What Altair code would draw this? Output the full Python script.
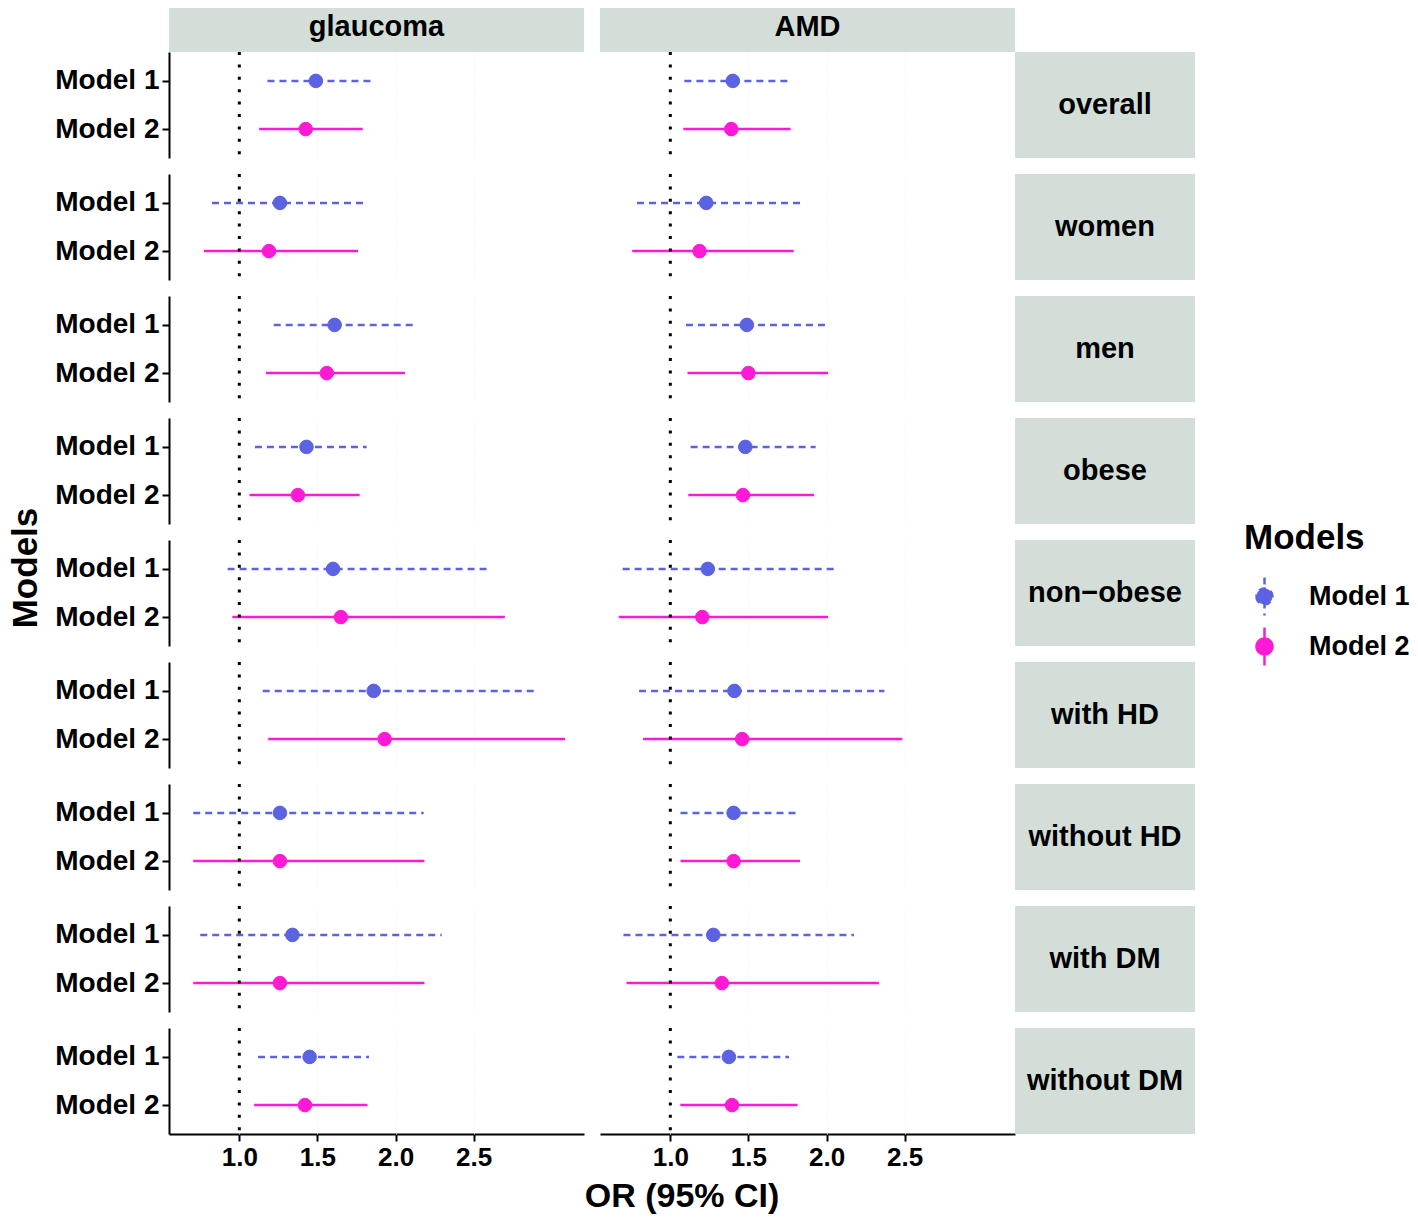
import altair as alt
import pandas as pd

FONT = "Liberation Sans"

diseases = ["glaucoma", "AMD"]
subgroups = ["overall", "women", "men", "obese", "non\u2212obese",
             "with HD", "without HD", "with DM", "without DM"]
models = ["Model 1", "Model 2"]
model_colors = ["#5b63e3", "#ff1ad6"]
strip_color = "#d3ded9"
x_ticks = [1.0, 1.5, 2.0, 2.5]

# glaucoma
glaucoma_m1_or = [1.49, 1.26, 1.61, 1.43, 1.60, 1.86, 1.26, 1.34, 1.45]
glaucoma_m1_lo = [1.18, 0.825, 1.22, 1.10, 0.925, 1.15, 0.705, 0.75, 1.12]
glaucoma_m1_hi = [1.86, 1.82, 2.11, 1.815, 2.585, 2.905, 2.18, 2.295, 1.83]
glaucoma_m2_or = [1.425, 1.19, 1.56, 1.375, 1.65, 1.93, 1.26, 1.26, 1.42]
glaucoma_m2_lo = [1.127, 0.773, 1.17, 1.065, 0.955, 1.185, 0.705, 0.705, 1.095]
glaucoma_m2_hi = [1.79, 1.76, 2.06, 1.77, 2.70, 3.085, 2.185, 2.185, 1.82]

# AMD
amd_m1_or = [1.40, 1.23, 1.49, 1.48, 1.24, 1.41, 1.405, 1.275, 1.375]
amd_m1_lo = [1.09, 0.787, 1.10, 1.13, 0.695, 0.80, 1.065, 0.70, 1.045]
amd_m1_hi = [1.777, 1.845, 2.00, 1.93, 2.07, 2.37, 1.83, 2.175, 1.76]
amd_m2_or = [1.39, 1.187, 1.50, 1.465, 1.205, 1.46, 1.405, 1.33, 1.395]
amd_m2_lo = [1.083, 0.756, 1.11, 1.115, 0.67, 0.825, 1.065, 0.72, 1.064]
amd_m2_hi = [1.77, 1.79, 2.01, 1.92, 2.01, 2.485, 1.83, 2.335, 1.815]

series = {
    ("glaucoma", "Model 1"): (glaucoma_m1_or, glaucoma_m1_lo, glaucoma_m1_hi),
    ("glaucoma", "Model 2"): (glaucoma_m2_or, glaucoma_m2_lo, glaucoma_m2_hi),
    ("AMD", "Model 1"): (amd_m1_or, amd_m1_lo, amd_m1_hi),
    ("AMD", "Model 2"): (amd_m2_or, amd_m2_lo, amd_m2_hi),
}

records = []
for (dis, mod), (est, lo, hi) in series.items():
    for i, sg in enumerate(subgroups):
        records.append({"disease": dis, "subgroup": sg, "model": mod,
                        "est": est[i], "lo": lo[i], "hi": hi[i]})
df = pd.DataFrame(records)

W, H = 415, 106
STRIP_W, STRIP_H = 180, 51

x_scale = alt.Scale(domain=[0.55, 3.206], nice=False, zero=False)
x_axis = alt.Axis(values=x_ticks, format=".1f", title=None)
y_enc = alt.Y("model:N", sort=models, scale=alt.Scale(type="point", padding=0.6),
              axis=alt.Axis(title=None))

SYMBOL = "M0,-1L0,1M-0.42,0A0.42,0.42,0,1,0,0.42,0A0.42,0.42,0,1,0,-0.42,0Z"
legend_def = alt.Legend(symbolType=SYMBOL)
col_scale = alt.Scale(domain=models, range=model_colors)
dash_scale = alt.Scale(domain=models, range=[[7, 5], [1, 0]])

base = alt.Chart()

ci = base.mark_rule(strokeWidth=2.5).encode(
    x=alt.X("lo:Q", scale=x_scale, axis=x_axis),
    x2="hi:Q",
    y=y_enc,
    stroke=alt.Stroke("model:N", scale=col_scale, legend=legend_def, title="Models"),
    strokeDash=alt.StrokeDash("model:N", scale=dash_scale, legend=legend_def, title="Models"),
)

vline = base.mark_rule(color="black", strokeWidth=3, strokeDash=[3, 9.4]).encode(
    x=alt.datum(1)
).transform_filter(alt.datum.model == "Model 1")

pts = base.mark_point(filled=True, size=185, opacity=1, strokeWidth=1).encode(
    x=alt.X("est:Q", scale=x_scale, axis=x_axis),
    y=y_enc,
    fill=alt.Fill("model:N", scale=col_scale, legend=legend_def, title="Models"),
    stroke=alt.Stroke("model:N", scale=col_scale, legend=legend_def, title="Models"),
)

row_filter = (alt.datum.disease == "AMD") & (alt.datum.model == "Model 1")
col_filter = (alt.datum.subgroup == "overall") & (alt.datum.model == "Model 1")

row_strip = base.mark_rect(fill=strip_color).encode(
    x=alt.value(W), x2=alt.value(W + STRIP_W), y=alt.value(0), y2=alt.value(H)
).transform_filter(row_filter)
row_strip_text = base.mark_text(font=FONT, fontSize=29, fontWeight="bold", color="black",
                                align="center", baseline="middle").encode(
    x=alt.value(W + STRIP_W / 2), y=alt.value(H / 2), text="subgroup:N"
).transform_filter(row_filter)

col_strip = base.mark_rect(fill=strip_color).encode(
    x=alt.value(0), x2=alt.value(W), y=alt.value(-STRIP_H), y2=alt.value(0)
).transform_filter(col_filter)
col_strip_text = base.mark_text(font=FONT, fontSize=29, fontWeight="bold", color="black",
                                align="center", baseline="middle").encode(
    x=alt.value(W / 2), y=alt.value(-STRIP_H / 2), text="disease:N"
).transform_filter(col_filter)

layered = alt.layer(
    row_strip, row_strip_text, col_strip, col_strip_text, ci, vline, pts, data=df
).properties(width=W, height=H)

chart = layered.facet(
    row=alt.Row("subgroup:N", sort=subgroups,
                header=alt.Header(labels=False, title="Models", titleOrient="left",
                                  titleFont=FONT, titleFontSize=35, titleFontWeight="bold",
                                  titleColor="black", titlePadding=0)),
    column=alt.Column("disease:N", sort=diseases,
                      header=alt.Header(labels=False, title="OR (95% CI)", titleOrient="bottom",
                                        titleFont=FONT, titleFontSize=34, titleFontWeight="bold",
                                        titleColor="black", titlePadding=0)),
    spacing=16,
    bounds="flush",
).configure(
    font=FONT
).configure_view(
    stroke="transparent"
).configure_axis(
    labelFont=FONT, labelFontSize=28, labelFontWeight="bold", labelColor="black",
    domainColor="black", domainWidth=2, tickColor="black", tickWidth=2, tickSize=7,
    labelPadding=3, gridColor="#f1f1f1", gridDash=[1, 2], gridWidth=1
).configure_axisX(
    labelFontSize=26
).configure_legend(
    orient="none", legendX=1075, legendY=469, padding=0,
    titleFont=FONT, titleFontSize=35, titleFontWeight="bold", titleColor="black",
    labelFont=FONT, labelFontSize=27, labelFontWeight="bold", labelColor="black",
    symbolSize=1444, symbolStrokeWidth=2.5, rowPadding=1, labelOffset=24, titlePadding=20
)

try:
    trial = chart.properties(padding={"top": -8, "bottom": 0, "left": 0, "right": 0})
    trial.to_dict()
    trial.save("out.html", embed_options={"renderer": "svg", "actions": False})
except Exception:
    chart = chart.properties(padding=0)
    chart.save("out.html", embed_options={"renderer": "svg", "actions": False})
